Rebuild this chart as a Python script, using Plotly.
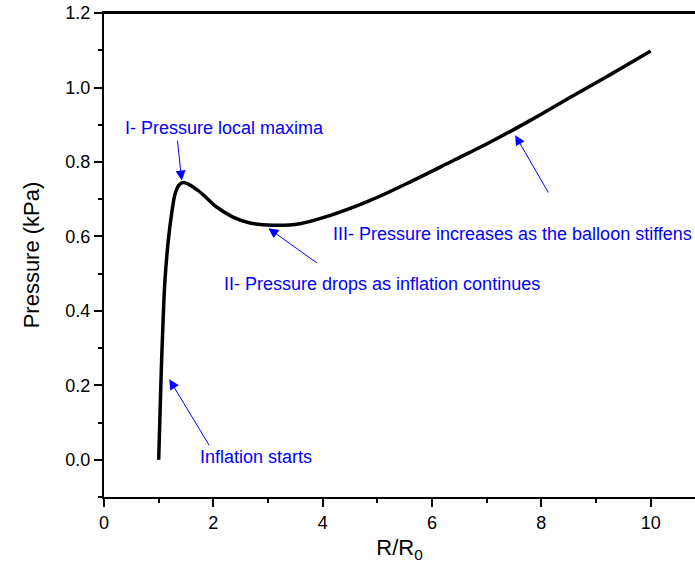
import plotly.graph_objects as go

# Data
r_ratio = [1.0, 1.02, 1.054, 1.085, 1.115, 1.176, 1.237, 1.30, 1.37, 1.45, 1.55,
           1.75, 1.9, 2.06, 2.36, 2.67, 3.1, 3.58, 4.13, 4.86, 5.65, 6.39, 7.06, 7.79,
           8.58, 9.3, 10.0]
pressure = [0.0, 0.10, 0.268, 0.39, 0.482, 0.589, 0.661, 0.714, 0.738, 0.745, 0.740,
            0.720, 0.700, 0.679, 0.652, 0.636, 0.630, 0.634, 0.656, 0.696, 0.750, 0.804,
            0.853, 0.911, 0.978, 1.038, 1.098]

x_ticks = [0, 2, 4, 6, 8, 10]
y_ticks = [0.0, 0.2, 0.4, 0.6, 0.8, 1.0, 1.2]
y_tick_labels = ["0.0", "0.2", "0.4", "0.6", "0.8", "1.0", "1.2"]

labels = ["I- Pressure local maxima",
          "II- Pressure drops as inflation continues",
          "III- Pressure increases as the balloon stiffens",
          "Inflation starts"]

FONT = "Liberation Sans, Arial, sans-serif"
BLUE = "#0000FF"

fig = go.Figure()
fig.add_trace(go.Scatter(x=r_ratio, y=pressure, mode="lines",
                         line=dict(color="black", width=3.5, shape="spline", smoothing=1.0),
                         showlegend=False, hoverinfo="skip"))

# text labels (center positions in data coordinates)
text_pos = [(2.205, 0.891), (5.081, 0.472), (7.475, 0.606), (2.787, 0.007)]
for t, (tx, ty) in zip(labels, text_pos):
    fig.add_annotation(x=tx, y=ty, text=t, showarrow=False, xanchor="center",
                       yanchor="middle", font=dict(family=FONT, size=18, color=BLUE))

# arrows: (tip x, tip y, tail x, tail y)
arrows = [(1.422, 0.750, 1.341, 0.861),
          (3.006, 0.622, 3.921, 0.526),
          (7.521, 0.872, 8.143, 0.714),
          (1.195, 0.216, 1.940, 0.035)]
for hx, hy, tx, ty in arrows:
    fig.add_annotation(x=hx, y=hy, ax=tx, ay=ty, xref="x", yref="y",
                       axref="x", ayref="y", text="", showarrow=True,
                       arrowhead=2, arrowsize=2, arrowwidth=1, arrowcolor=BLUE)

# top frame line
fig.add_shape(type="line", xref="paper", yref="paper", x0=0, x1=1, y0=1, y1=1,
              line=dict(color="black", width=2))

fig.update_layout(
    width=695, height=578,
    margin=dict(l=104, r=0, t=13, b=81, autoexpand=False),
    paper_bgcolor="white", plot_bgcolor="white",
    font=dict(family=FONT, color="black"),
    xaxis=dict(range=[0, 10.81], tickvals=x_ticks, ticks="outside", ticklen=8,
               tickwidth=2, tickcolor="black", showline=True, linecolor="black",
               linewidth=2, mirror=True, showgrid=False, zeroline=False,
               automargin=False, tickfont=dict(size=18, family=FONT),
               minor=dict(dtick=1, tick0=0, ticks="outside", ticklen=4, tickwidth=2,
                          tickcolor="black", showgrid=False),
               title=dict(text="R/R<sub>0</sub>", font=dict(size=22, family=FONT), standoff=8)),
    yaxis=dict(range=[-0.1, 1.2002], tickvals=y_ticks, ticktext=y_tick_labels,
               ticks="outside", ticklen=8, tickwidth=2, tickcolor="black",
               showline=True, linecolor="black", linewidth=2, showgrid=False,
               zeroline=False, automargin=False, tickfont=dict(size=18, family=FONT),
               minor=dict(dtick=0.1, tick0=0, ticks="outside", ticklen=4, tickwidth=2,
                          tickcolor="black", showgrid=False),
               title=dict(text="Pressure (kPa)", font=dict(size=22, family=FONT), standoff=20)),
)

fig.write_html("out.html", config={"displayModeBar": False},
               post_script="document.body.style.margin='0px';document.body.style.overflow='hidden';")
